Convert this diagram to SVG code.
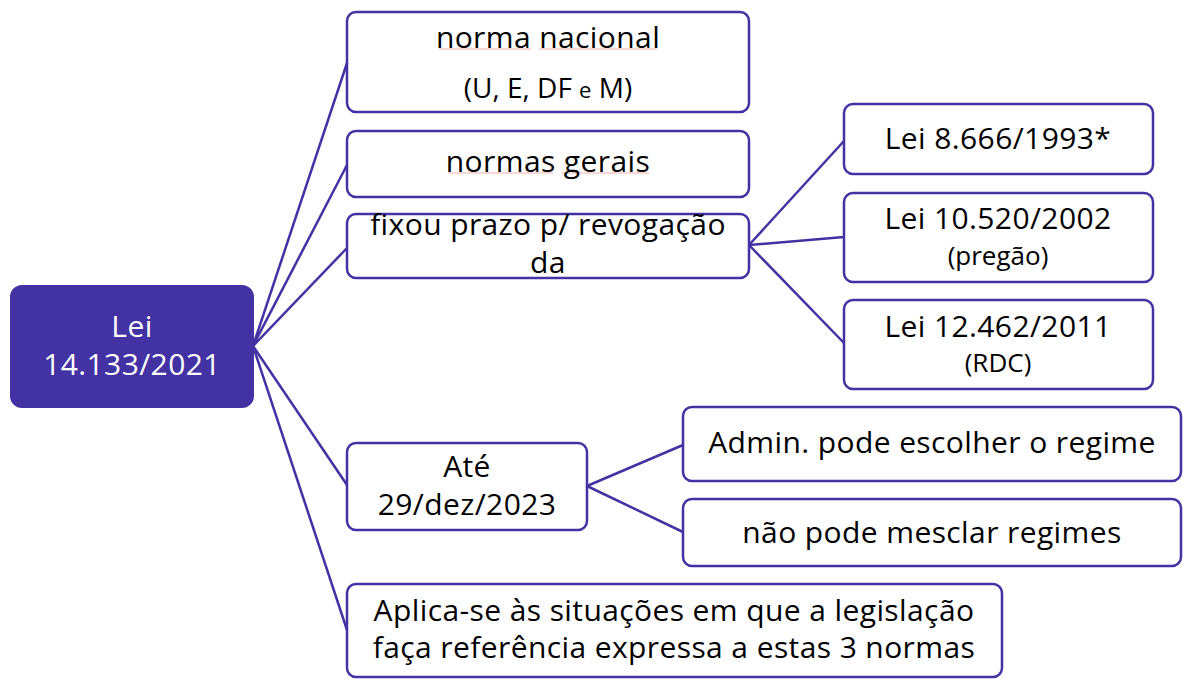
<svg xmlns="http://www.w3.org/2000/svg" width="1183" height="679" viewBox="0 0 1183 679">
<style>
.box{fill:#ffffff;stroke:#4332a3;stroke-width:2.5}
.root{fill:#4332a3;stroke:#4332a3;stroke-width:2}
.t{font-family:"Open Sans","Liberation Sans",sans-serif;fill:#000;text-anchor:middle}
.big{font-size:30px;letter-spacing:0.4px}
.md{font-size:28px}
.sm{font-size:26px}
.xs{font-size:22px}
.w{fill:#ffffff}
.con{fill:none;stroke:#4332a3;stroke-width:2.5}
.sq{fill:none;stroke:#f2b0b0;stroke-width:1.2}
</style>
<rect width="1183" height="679" fill="#ffffff"/>
<g id="connectors">
<line class="con" x1="253" y1="346" x2="347" y2="63"/>
<line class="con" x1="253" y1="346" x2="347" y2="165"/>
<line class="con" x1="253" y1="346" x2="347" y2="248"/>
<line class="con" x1="253" y1="346" x2="347" y2="485"/>
<line class="con" x1="253" y1="346" x2="347" y2="630"/>
<line class="con" x1="749" y1="245" x2="844" y2="141"/>
<line class="con" x1="749" y1="245" x2="844" y2="237"/>
<line class="con" x1="749" y1="245" x2="844" y2="343"/>
<line class="con" x1="587" y1="486" x2="683" y2="445"/>
<line class="con" x1="587" y1="486" x2="683" y2="532"/>
</g>
<g id="root">
<rect class="root" x="11" y="286" width="242" height="121" rx="11"/>
<text class="t big w" x="132" y="337">Lei</text>
<text class="t big w" x="132" y="375">14.133/2021</text>
</g>
<g id="n-nacional">
<rect class="box" x="347" y="12" width="402" height="100" rx="9"/>
<path class="sq" d="M439 49 h92 M539 49 h118"/>
<text class="t big" x="548" y="48">norma nacional</text>
<text class="t md" x="548" y="98">(U, E, DF <tspan class="xs">e</tspan> M)</text>
</g>
<g id="n-gerais">
<rect class="box" x="347" y="131" width="402" height="66" rx="9"/>
<path class="sq" d="M448 173 h105 M562 173 h87"/>
<text class="t big" x="548" y="172">normas gerais</text>
</g>
<g id="n-prazo">
<rect class="box" x="347" y="214" width="402" height="64" rx="9"/>
<text class="t big" x="548" y="235">fixou prazo p/ revogação</text>
<text class="t big" x="548" y="273">da</text>
</g>
<g id="n-8666">
<rect class="box" x="844" y="104" width="309" height="70" rx="9"/>
<text class="t big" x="998" y="149">Lei 8.666/1993*</text>
</g>
<g id="n-10520">
<rect class="box" x="844" y="193" width="309" height="89" rx="9"/>
<text class="t big" x="998" y="229">Lei 10.520/2002</text>
<text class="t sm" x="998" y="265">(pregão)</text>
</g>
<g id="n-12462">
<rect class="box" x="844" y="300" width="309" height="89" rx="9"/>
<text class="t big" x="998" y="337">Lei 12.462/2011</text>
<text class="t sm" x="998" y="372">(RDC)</text>
</g>
<g id="n-ate">
<rect class="box" x="347" y="443" width="240" height="87" rx="9"/>
<text class="t big" x="467" y="477">Até</text>
<text class="t big" x="467" y="515">29/dez/2023</text>
</g>
<g id="n-admin">
<rect class="box" x="683" y="407" width="498" height="74" rx="9"/>
<text class="t big" x="932" y="453">Admin. pode escolher o regime</text>
</g>
<g id="n-mesclar">
<rect class="box" x="683" y="499" width="498" height="67" rx="9"/>
<text class="t big" x="932" y="543">não pode mesclar regimes</text>
</g>
<g id="n-aplica">
<rect class="box" x="347" y="584" width="655" height="93" rx="9"/>
<text class="t big" x="674" y="621">Aplica-se às situações em que a legislação</text>
<text class="t big" x="674" y="658">faça referência expressa a estas 3 normas</text>
</g>
</svg>
